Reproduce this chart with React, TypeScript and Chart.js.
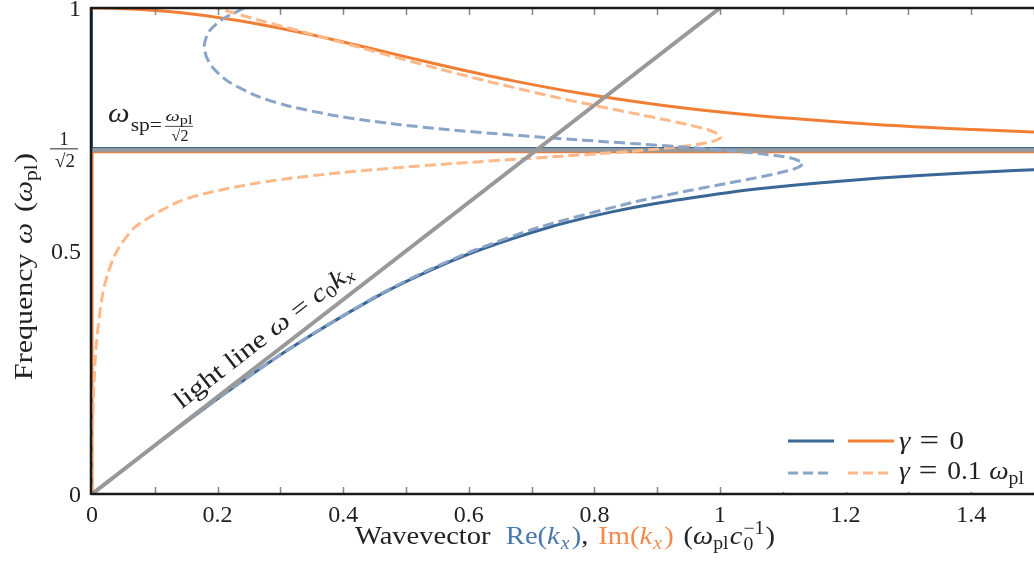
import React, { useEffect, useRef } from 'react';
import { Chart, registerables } from 'chart.js';

Chart.register(...registerables);

const FONT = '"Liberation Serif", "DejaVu Serif", serif';

// γ = 0, bound branch: Re(k) vs ω
const boundOmega = [0, 0.1, 0.2, 0.3, 0.4, 0.45, 0.5, 0.55, 0.58, 0.6, 0.62, 0.63, 0.64, 0.65, 0.66, 0.665, 0.668];
const boundReK = [0, 0.1005, 0.2043, 0.316, 0.4446, 0.521, 0.6124, 0.7309, 0.826, 0.9071, 1.0117, 1.0774, 1.1565, 1.2547, 1.3816, 1.4611, 1.5158];

// γ = 0, evanescent branch: Im(k) vs ω
const evanOmega = [0.744, 0.745, 0.75, 0.76, 0.78, 0.8, 0.825, 0.85, 0.875, 0.9, 0.93, 0.95, 0.97, 0.98, 0.99, 0.995, 0.999, 1.0];
const evanImK = [1.5192, 1.4981, 1.4031, 1.2538, 1.0483, 0.9071, 0.7757, 0.6712, 0.5812, 0.4982, 0.4001, 0.3306, 0.2511, 0.2032, 0.1425, 0.1004, 0.0448, 0];

// γ = 0.1 ω_pl
const dampOmega = [0, 0.05, 0.1, 0.2, 0.3, 0.4, 0.45, 0.5, 0.55, 0.6, 0.62, 0.64, 0.65, 0.66, 0.67, 0.68, 0.69, 0.695, 0.7, 0.705, 0.71, 0.715, 0.72, 0.725, 0.73, 0.735, 0.74, 0.75, 0.76, 0.77, 0.78, 0.8, 0.82, 0.85, 0.875, 0.9, 0.925, 0.95, 0.975, 1.0];
const dampReK = [0, 0.0501, 0.1005, 0.2042, 0.3157, 0.443, 0.5179, 0.6057, 0.7151, 0.861, 0.9339, 1.0143, 1.0548, 1.092, 1.1205, 1.1321, 1.1167, 1.0961, 1.0662, 1.0275, 0.9812, 0.9291, 0.8734, 0.8165, 0.7603, 0.7062, 0.6552, 0.5647, 0.49, 0.4293, 0.3803, 0.3085, 0.2605, 0.2157, 0.1939, 0.1821, 0.179, 0.1855, 0.2052, 0.2422];
const dampImK = [0, 0.0001, 0.0005, 0.0023, 0.0063, 0.0154, 0.0243, 0.0397, 0.0692, 0.1352, 0.1854, 0.2633, 0.3181, 0.387, 0.4726, 0.575, 0.6896, 0.748, 0.8043, 0.8561, 0.9015, 0.9388, 0.9672, 0.9866, 0.9976, 1.0012, 0.9986, 0.9797, 0.9492, 0.913, 0.8746, 0.7979, 0.7258, 0.6274, 0.5521, 0.4802, 0.4094, 0.3379, 0.2657, 0.1985];

// light line ω = c0 k
const lightK = [0, 1];
const lightOmega = [0, 1];

// surface plasmon frequency and the flat branches
const omegaSp = 0.7071;
const spLineK = [0, 1.5];
const blueFlatOmega = [0.7122, 0.7122];
const orangeFlatOmega = [0.7025, 0.7025];
const zeroK = [0, 0];
const lowerOmegaRange = [0, 0.7071];
const upperOmegaRange = [0.7071, 1];

// axis ticks
const yTickValues = [0, 0.5, 1];
const yTickLabels = ['0', '0.5', '1'];

const BLUE = '#3a6796';
const ORANGE = '#f07f35';
const BLUE_D = '#8aa5c8';
const ORANGE_D = '#fdb98a';
const GRAY = '#999999';
const TXT = '#222222';
const TBLUE = '#4a78aa';
const TORANGE = '#f38a4a';

const pts = (xs: number[], ys: number[]) => xs.map((x, i) => ({ x, y: ys[i] }));

type Seg = { t?: string; c?: string; it?: boolean; s?: number; dy?: number; adv?: boolean; g?: number };

function drawRich(
  ctx: CanvasRenderingContext2D,
  segs: Seg[],
  x: number,
  y: number,
  base: number,
  align: 'left' | 'center' | 'right',
  fit?: number,
) {
  const fontFor = (sg: Seg) => `${sg.it ? 'italic ' : ''}${sg.s ?? base}px ${FONT}`;
  let total = 0;
  const widths = segs.map((sg) => {
    if (sg.g !== undefined) {
      total += sg.g;
      return sg.g;
    }
    ctx.font = fontFor(sg);
    const w = ctx.measureText(sg.t ?? '').width;
    if (sg.adv !== false) total += w;
    return w;
  });
  const sx = fit ? fit / total : 1;
  const shown = total * sx;
  const start = align === 'center' ? x - shown / 2 : align === 'right' ? x - shown : x;
  ctx.save();
  ctx.translate(start, y);
  ctx.scale(sx, 1);
  ctx.textAlign = 'left';
  ctx.textBaseline = 'alphabetic';
  let cx = 0;
  segs.forEach((sg, i) => {
    if (sg.g !== undefined) {
      cx += sg.g;
      return;
    }
    ctx.font = fontFor(sg);
    ctx.fillStyle = sg.c ?? TXT;
    ctx.fillText(sg.t ?? '', cx, sg.dy ?? 0);
    if (sg.adv !== false) cx += widths[i];
  });
  ctx.restore();
}

const decorPlugin = {
  id: 'decor',
  afterDatasetsDraw(chart: any) {
    const ctx: CanvasRenderingContext2D = chart.ctx;
    const { left, right, top, bottom } = chart.chartArea;
    const xs = chart.scales.x;
    const ys = chart.scales.y;
    ctx.save();

    // inward tick marks
    ctx.strokeStyle = '#888888';
    ctx.lineWidth = 1.5;
    xs.ticks.forEach((t: any) => {
      if (t.value <= 0) return;
      const px = Math.round(xs.getPixelForValue(t.value)) + 0.5;
      ctx.beginPath();
      ctx.moveTo(px, bottom);
      ctx.lineTo(px, bottom - 7);
      ctx.moveTo(px, top);
      ctx.lineTo(px, top + 7);
      ctx.stroke();
    });

    // frame
    ctx.strokeStyle = '#1a1a1a';
    ctx.lineWidth = 2.5;
    ctx.beginPath();
    ctx.moveTo(left - 1, top);
    ctx.lineTo(right, top);
    ctx.moveTo(left - 1, top - 1);
    ctx.lineTo(left - 1, bottom + 1);
    ctx.moveTo(left - 1, bottom);
    ctx.lineTo(right, bottom);
    ctx.stroke();

    // y tick labels
    ctx.fillStyle = TXT;
    ctx.font = `24px ${FONT}`;
    ctx.textAlign = 'right';
    ctx.textBaseline = 'middle';
    yTickValues.forEach((v, i) => {
      ctx.fillText(yTickLabels[i], left - 11, ys.getPixelForValue(v) + 2);
    });
    // 1/√2 fraction label
    const py = ys.getPixelForValue(omegaSp);
    ctx.textAlign = 'center';
    ctx.textBaseline = 'alphabetic';
    ctx.font = `19px ${FONT}`;
    ctx.fillText('1', left - 28, py - 5);
    ctx.fillText('√2', left - 27, py + 17);
    ctx.strokeStyle = TXT;
    ctx.lineWidth = 1;
    ctx.beginPath();
    ctx.moveTo(left - 42, py - 1.5);
    ctx.lineTo(left - 14, py - 1.5);
    ctx.stroke();

    // ω_sp label
    const lx = xs.getPixelForValue(0) + 16;
    const ly = py - 28;
    drawRich(ctx, [
      { t: 'ω', it: true, s: 27 },
      { g: 1 },
      { t: 'sp', s: 19, dy: 9 },
      { t: '=', s: 19, dy: 9 },
    ], lx, ly, 22, 'left', 54);
    const fx = lx + 71;
    drawRich(ctx, [{ t: 'ω', it: true, s: 15 }, { t: 'pl', s: 12, dy: 3 }], fx, ly - 1, 15, 'center', 27);
    ctx.beginPath();
    ctx.lineWidth = 0.8;
    ctx.strokeStyle = TXT;
    ctx.moveTo(fx - 14, ly + 4);
    ctx.lineTo(fx + 14, ly + 4);
    ctx.stroke();
    ctx.fillStyle = TXT;
    ctx.font = `16px ${FONT}`;
    ctx.textAlign = 'center';
    ctx.fillText('√2', fx + 1, ly + 19);

    // light line label
    const x0 = xs.getPixelForValue(lightK[0]);
    const y0 = ys.getPixelForValue(lightOmega[0]);
    const x1 = xs.getPixelForValue(lightK[1]);
    const y1 = ys.getPixelForValue(lightOmega[1]);
    const len = Math.hypot(x1 - x0, y1 - y0);
    const ux = (x1 - x0) / len;
    const uy = (y1 - y0) / len;
    const along = 232;
    const off = 12;
    ctx.save();
    ctx.translate(x0 + ux * along + uy * off, y0 + uy * along - ux * off);
    ctx.rotate(Math.atan2(y1 - y0, x1 - x0));
    drawRich(ctx, [
      { t: 'light line ' },
      { t: 'ω', it: true },
      { g: 6 },
      { t: '=' },
      { g: 6 },
      { t: 'c', it: true },
      { t: '0', s: 17, dy: 4 },
      { t: 'k', it: true },
      { t: 'x', it: true, s: 17, dy: 4 },
    ], 0, 0, 25, 'center', 219);
    ctx.restore();

    // x axis title
    drawRich(ctx, [
      { t: 'Wavevector' },
      { g: 14 },
      { t: 'Re(', c: TBLUE },
      { t: 'k', c: TBLUE, it: true },
      { g: 1 },
      { t: 'x', c: TBLUE, it: true, s: 18, dy: 5 },
      { g: 2 },
      { t: ')', c: TBLUE },
      { t: ',' },
      { g: 9 },
      { t: 'Im(', c: TORANGE },
      { t: 'k', c: TORANGE, it: true },
      { g: 1 },
      { t: 'x', c: TORANGE, it: true, s: 18, dy: 5 },
      { g: 2 },
      { t: ')', c: TORANGE },
      { g: 9 },
      { t: '(' },
      { t: 'ω', it: true },
      { t: 'pl', s: 18, dy: 5 },
      { g: 1 },
      { t: 'c', it: true },
      { g: 1 },
      { t: '0', s: 18, dy: 6, adv: false },
      { t: '−1', s: 18, dy: -10 },
      { g: 1 },
      { t: ')' },
    ], 565, bottom + 50, 26, 'center', 420);

    // y axis title
    ctx.save();
    ctx.translate(32, 266.5);
    ctx.rotate(-Math.PI / 2);
    drawRich(ctx, [
      { t: 'Frequency' },
      { g: 8 },
      { t: 'ω', it: true },
      { g: 9 },
      { t: '(' },
      { t: 'ω', it: true },
      { t: 'pl', s: 18, dy: 5 },
      { g: 1 },
      { t: ')' },
    ], 0, 0, 25, 'center', 227);
    ctx.restore();

    // legend
    const lgX = right - 256;
    ctx.fillStyle = '#ffffff';
    ctx.fillRect(lgX, bottom - 74, 256, 72);
    const r1 = bottom - 53;
    const r2 = bottom - 21;
    ctx.lineWidth = 3;
    ctx.setLineDash([]);
    ctx.strokeStyle = BLUE;
    ctx.beginPath(); ctx.moveTo(lgX + 10, r1); ctx.lineTo(lgX + 56, r1); ctx.stroke();
    ctx.strokeStyle = ORANGE;
    ctx.beginPath(); ctx.moveTo(lgX + 70, r1); ctx.lineTo(lgX + 116, r1); ctx.stroke();
    ctx.setLineDash([10, 5]);
    ctx.strokeStyle = BLUE_D;
    ctx.beginPath(); ctx.moveTo(lgX + 10, r2); ctx.lineTo(lgX + 52, r2); ctx.stroke();
    ctx.strokeStyle = ORANGE_D;
    ctx.beginPath(); ctx.moveTo(lgX + 70, r2); ctx.lineTo(lgX + 112, r2); ctx.stroke();
    ctx.setLineDash([]);
    drawRich(ctx, [{ t: 'γ', it: true }, { g: 8 }, { t: '=', s: 30, dy: 1 }, { g: 9 }, { t: '0' }], lgX + 121, r1 + 8, 25, 'left', 65);
    drawRich(ctx, [
      { t: 'γ', it: true }, { g: 8 }, { t: '=', s: 30, dy: 1 }, { g: 9 }, { t: '0.1' }, { g: 7 },
      { t: 'ω', it: true }, { t: 'pl', s: 18, dy: 5 },
    ], lgX + 121, r2 + 6, 25, 'left', 125);

    ctx.restore();
  },
};

export default function App() {
  const ref = useRef<HTMLCanvasElement | null>(null);
  useEffect(() => {
    if (!ref.current) return;
    const line = (data: any, color: string, width: number, order: number, dash: number[] = [], tension = 0.25) => ({
      data,
      showLine: true,
      borderColor: color,
      backgroundColor: color,
      borderWidth: width,
      borderDash: dash,
      pointRadius: 0,
      pointHoverRadius: 0,
      tension,
      fill: false,
      order,
    });
    const chart = new Chart(ref.current, {
      type: 'scatter',
      data: {
        datasets: [
          line(pts(lightK, lightOmega), GRAY, 4, 0, [], 0),
          line(pts(dampReK, dampOmega), BLUE_D, 3, 1, [11, 5]),
          line(pts(dampImK, dampOmega), ORANGE_D, 3, 2, [11, 5]),
          line(pts(boundReK, boundOmega), BLUE, 3, 3),
          line(pts(evanImK, evanOmega), ORANGE, 3, 4),
          line(pts(spLineK, [omegaSp, omegaSp]), GRAY, 4, 5, [], 0),
          line(pts(spLineK, blueFlatOmega), BLUE, 1.8, 7, [], 0),
          line(pts(spLineK, orangeFlatOmega), ORANGE, 1.5, 8, [], 0),
          line(pts(zeroK, lowerOmegaRange), ORANGE, 3, 9, [], 0),
          line(pts(zeroK, upperOmegaRange), BLUE, 2, 9, [], 0),
        ],
      },
      options: {
        animation: false,
        responsive: false,
        devicePixelRatio: 1,
        layout: { padding: { top: 8, right: 0, left: 0, bottom: 0 } },
        plugins: { legend: { display: false }, tooltip: { enabled: false } },
        events: [],
        scales: {
          x: {
            type: 'linear',
            min: 0,
            max: 1.5,
            grid: { display: false, drawTicks: false },
            border: { display: false },
            ticks: {
              stepSize: 0.1,
              autoSkip: false,
              maxRotation: 0,
              padding: 7,
              color: TXT,
              font: { family: FONT, size: 24 },
              callback: (v: any) => {
                const n = Math.round(Number(v) * 10);
                if (n % 2 !== 0 || n > 14) return '';
                return String(parseFloat((n / 10).toFixed(1)));
              },
            },
            afterFit: (s: any) => {
              s.height = 75;
              s.paddingLeft = 0;
              s.paddingRight = 0;
            },
          },
          y: {
            type: 'linear',
            min: 0,
            max: 1,
            grid: { display: false, drawTicks: false },
            border: { display: false },
            ticks: { display: false },
            afterFit: (s: any) => {
              s.width = 92;
              s.paddingTop = 0;
              s.paddingBottom = 0;
            },
          },
        },
      } as any,
      plugins: [decorPlugin],
    });
    return () => chart.destroy();
  }, []);
  return (
    <div style={{ position: 'fixed', left: 0, top: 0, width: 1034, height: 569, background: '#fff' }}>
      <canvas ref={ref} width={1034} height={569} style={{ width: 1034, height: 569 }} />
    </div>
  );
}
